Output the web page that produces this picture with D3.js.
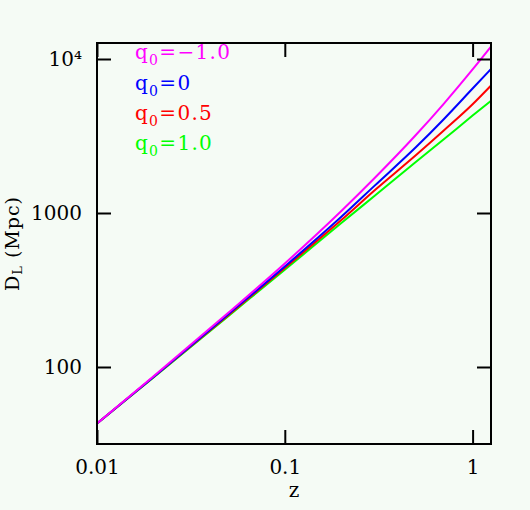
<!DOCTYPE html>
<html>
<head>
<meta charset="utf-8">
<script src="https://cdn.jsdelivr.net/npm/d3@7/dist/d3.min.js"></script>
<style>
  html, body { margin: 0; padding: 0; background: #f5fbf5; }
  svg { display: block; }
  text { font-family: "DejaVu Serif", serif; }
</style>
</head>
<body>
<svg id="chart" width="530" height="510"></svg>
<script>
// ---- data ----
const redshift = [0.01, 0.02, 0.05, 0.1, 0.2, 0.3, 0.5, 0.7, 1.0, 1.25];
const dlQm1   = [43, 87, 225, 470, 1030, 1680, 3220, 5100, 8560, 12000];
const dlQ0    = [43, 86, 220, 450, 945, 1500, 2680, 4050, 6430, 8580];
const dlQ05   = [43, 86, 217, 440, 900, 1400, 2380, 3420, 5080, 6700];
const dlQ1    = [43, 85.5, 214, 428, 860, 1290, 2150, 3000, 4290, 5340];
const seriesNames  = ["q0=−1.0", "q0=0", "q0=0.5", "q0=1.0"];
const seriesValues = [dlQm1, dlQ0, dlQ05, dlQ1];
const seriesColors = ["#ff00ff", "#0000ff", "#ff0000", "#00ff00"];
const legendRest   = ["=−1.0", "=0", "=0.5", "=1.0"];
const xTicks = [0.01, 0.1, 1];
const xTickLabels = ["0.01", "0.1", "1"];
const yTicks = [100, 1000, 10000];
const yTickLabels = ["100", "1000", "10⁴"];

// ---- layout ----
const L = 97, R = 491, T = 43, B = 444;
const svg = d3.select("#chart");
svg.append("rect").attr("width", 530).attr("height", 510).attr("fill", "#f5fbf5");

const x = d3.scaleLog().domain([0.01, Math.pow(10, (R - L) / 187.8 - 2)]).range([L, R]);
const y = d3.scaleLog().domain([Math.pow(10, 2 - 77 / 154), Math.pow(10, 4 + 16 / 154)]).range([B, T]);

// curves (green first so magenta ends on top)
const line = d3.line().x((d, i) => x(redshift[i])).y(d => y(d)).curve(d3.curveMonotoneX);
for (let s = seriesValues.length - 1; s >= 0; s--) {
  svg.append("path")
    .datum(seriesValues[s])
    .attr("d", line)
    .attr("fill", "none")
    .attr("stroke", seriesColors[s])
    .attr("stroke-width", 2);
}

// axes
function styleAxis(g) {
  g.select(".domain").remove();
  g.selectAll(".tick line").attr("stroke", "#000").attr("stroke-width", 2);
  g.selectAll(".tick text").attr("fill", "#000").attr("font-size", 20).attr("font-family", "DejaVu Serif, serif");
}
svg.append("g").attr("transform", `translate(0,${B})`)
  .call(d3.axisBottom(x).tickValues(xTicks).tickSize(-14).tickPadding(16)
    .tickFormat((d, i) => xTickLabels[i]))
  .call(styleAxis);
svg.append("g").attr("transform", `translate(0,${T})`)
  .call(d3.axisTop(x).tickValues(xTicks).tickSize(-14).tickFormat(""))
  .call(styleAxis);
svg.append("g").attr("transform", `translate(${L},0)`)
  .call(d3.axisLeft(y).tickValues(yTicks).tickSize(-14).tickPadding(15)
    .tickFormat((d, i) => yTickLabels[i]))
  .call(styleAxis);
svg.append("g").attr("transform", `translate(${R},0)`)
  .call(d3.axisRight(y).tickValues(yTicks).tickSize(-14).tickFormat(""))
  .call(styleAxis);

// frame
svg.append("rect").attr("x", L).attr("y", T).attr("width", R - L).attr("height", B - T)
  .attr("fill", "none").attr("stroke", "#000").attr("stroke-width", 2);

// axis titles
svg.append("text").attr("x", (L + R) / 2).attr("y", 497).attr("text-anchor", "middle")
  .attr("font-size", 20).text("z");
const yl = svg.append("text").attr("transform", `translate(19,${(T + B) / 2}) rotate(-90)`)
  .attr("text-anchor", "middle").attr("font-size", 19).attr("letter-spacing", 1);
yl.append("tspan").text("D");
yl.append("tspan").attr("font-size", 13).attr("dy", 3).text("L");
yl.append("tspan").attr("dy", -3).text(" (Mpc)");

// legend
const legendY = [59, 89.5, 120, 150];
seriesNames.forEach((n, i) => {
  const t = svg.append("text").attr("x", 135).attr("y", legendY[i])
    .attr("fill", seriesColors[i]).attr("font-size", 20).attr("letter-spacing", 1.3);
  t.append("tspan").text("q");
  t.append("tspan").attr("font-size", 14).attr("dy", 6).text("0");
  t.append("tspan").attr("dy", -6).text(legendRest[i]);
});
</script>
</body>
</html>
